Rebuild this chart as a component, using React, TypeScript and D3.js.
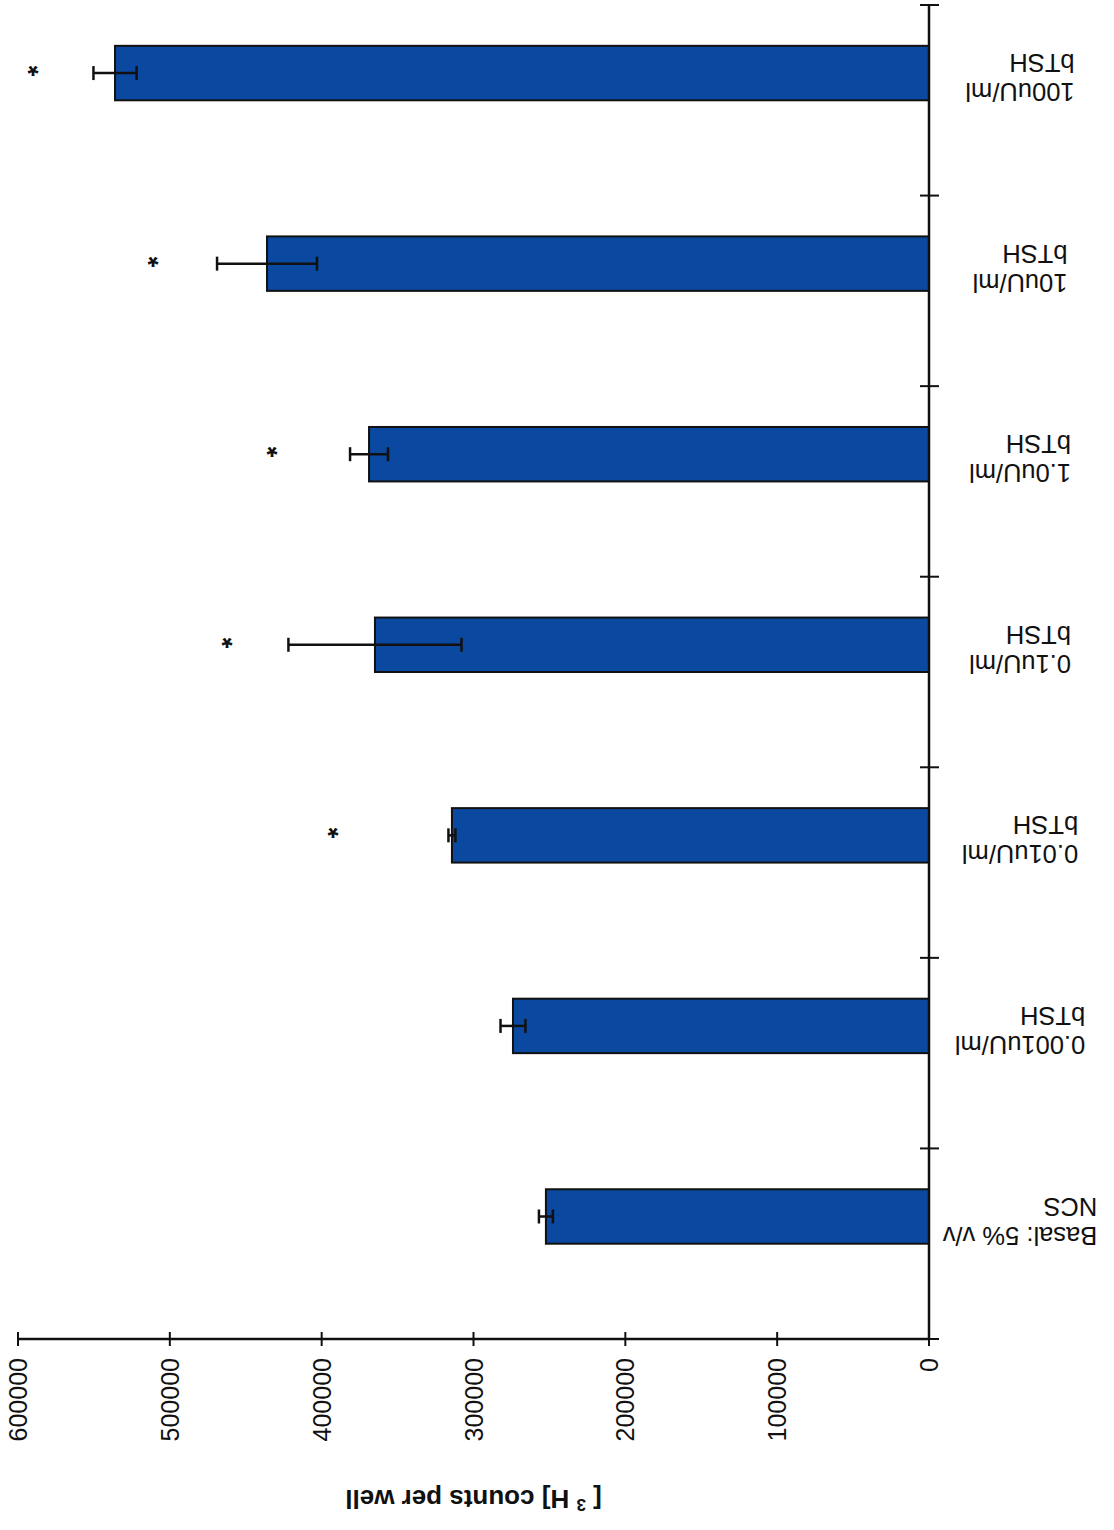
import React, { useEffect, useRef } from "react";
import * as d3 from "d3";

// Proliferation assay: [3H] counts per well for each bTSH dose
const categoryLines: string[][] = [
  ["Basal: 5% v/v", "NCS"],
  ["0.001uU/ml", "bTSH"],
  ["0.01uU/ml", "bTSH"],
  ["0.1uU/ml", "bTSH"],
  ["1.0uU/ml", "bTSH"],
  ["10uU/ml", "bTSH"],
  ["100uU/ml", "bTSH"],
];
const meanCounts = [252300, 274000, 314200, 364900, 368800, 436000, 536100];
const errorCounts = [4600, 8200, 2300, 57000, 12500, 32900, 14200];
// Value at which the significance marker sits (null = not significant)
const significanceAt: (number | null)[] = [null, null, 392500, 462400, 432700, 511000, 590100];
const valueTicks = [0, 100000, 200000, 300000, 400000, 500000, 600000];

const W = 1114;
const H = 1530;
const FONT = "'Liberation Sans', Arial, sans-serif";

export default function App() {
  const ref = useRef<SVGSVGElement | null>(null);

  useEffect(() => {
    const svg = d3.select(ref.current);
    svg.selectAll("*").remove();

    // The figure is laid out as a bar chart and then turned upside-down as a whole
    const g = svg.append("g").attr("transform", `rotate(180 ${W / 2} ${H / 2})`);

    const keys = categoryLines.map((_, i) => String(i));
    const x = d3.scaleLinear().domain([0, 600000]).range([185, 1096]);
    const y = d3.scaleBand<string>().domain(keys).range([191, 1525]).paddingInner(0).paddingOuter(0);
    const bw = y.bandwidth();
    const barH = bw / 3.5;
    const barTop = (k: string) => (y(k) as number) + bw * 0.5;
    const barMid = (k: string) => barTop(k) + barH / 2;

    // bars
    g.append("g")
      .selectAll("rect")
      .data(meanCounts)
      .join("rect")
      .attr("x", x(0))
      .attr("y", (_, i) => barTop(keys[i]))
      .attr("width", (d) => x(d) - x(0))
      .attr("height", barH)
      .attr("fill", "#0b49a0")
      .attr("stroke", "#111")
      .attr("stroke-width", 2);

    // error bars
    const eb = g.append("g").attr("stroke", "#111").attr("stroke-width", 2.5).attr("fill", "none");
    meanCounts.forEach((m, i) => {
      const cy = barMid(keys[i]);
      const lo = x(m - errorCounts[i]);
      const hi = x(m + errorCounts[i]);
      eb.append("line").attr("x1", lo).attr("x2", hi).attr("y1", cy).attr("y2", cy);
      eb.append("line").attr("x1", lo).attr("x2", lo).attr("y1", cy - 7).attr("y2", cy + 7);
      eb.append("line").attr("x1", hi).attr("x2", hi).attr("y1", cy - 7).attr("y2", cy + 7);
    });

    // significance markers
    g.append("g")
      .selectAll("text")
      .data(significanceAt.map((v, i) => ({ v, i })).filter((d) => d.v !== null))
      .join("text")
      .attr("x", (d) => x(d.v as number))
      .attr("y", (d) => barMid(keys[d.i]) + 16)
      .attr("text-anchor", "middle")
      .attr("font-family", FONT)
      .attr("font-size", 28)
      .attr("font-weight", "bold")
      .attr("fill", "#111")
      .text("*");

    // value axis
    const ax = g.append("g");
    ax.append("line")
      .attr("x1", x(0))
      .attr("x2", x(600000))
      .attr("y1", 191)
      .attr("y2", 191)
      .attr("stroke", "#111")
      .attr("stroke-width", 2.5);
    ax.selectAll("line.tick")
      .data(valueTicks)
      .join("line")
      .attr("class", "tick")
      .attr("x1", (d) => x(d))
      .attr("x2", (d) => x(d))
      .attr("y1", 184)
      .attr("y2", 198)
      .attr("stroke", "#111")
      .attr("stroke-width", 2);
    ax.selectAll("text")
      .data(valueTicks)
      .join("text")
      .attr("transform", (d) => `translate(${x(d)},172) rotate(90)`)
      .attr("text-anchor", "end")
      .attr("dominant-baseline", "central")
      .attr("font-family", FONT)
      .attr("font-size", 25)
      .attr("fill", "#111")
      .text((d) => String(d));

    // axis title with superscript
    const title = g.append("text")
      .attr("x", (x(0) + x(600000)) / 2)
      .attr("y", 40)
      .attr("text-anchor", "middle")
      .attr("font-family", FONT)
      .attr("font-size", 26)
      .attr("font-weight", "bold")
      .attr("fill", "#111");
    title.append("tspan").text("[ ");
    title.append("tspan").attr("font-size", 17).attr("dy", -9).text("3");
    title.append("tspan").attr("dy", 9).text(" H] counts per well");

    // category axis
    const cx = x(0);
    const cat = g.append("g");
    cat.append("line")
      .attr("x1", cx)
      .attr("x2", cx)
      .attr("y1", 191)
      .attr("y2", 1525)
      .attr("stroke", "#111")
      .attr("stroke-width", 2.5);
    const bounds = keys.map((k) => y(k) as number).concat([1525]);
    cat.selectAll("line.tick")
      .data(bounds)
      .join("line")
      .attr("class", "tick")
      .attr("x1", cx - 10)
      .attr("x2", cx + 9)
      .attr("y1", (d) => d)
      .attr("y2", (d) => d)
      .attr("stroke", "#111")
      .attr("stroke-width", 2);

    // category labels: lines left-aligned, block centred in the label column
    categoryLines.forEach((lines, i) => {
      const mid = barMid(keys[i]);
      const t = cat.append("text")
        .attr("font-family", FONT)
        .attr("font-size", 25.5)
        .attr("fill", "#111");
      lines.forEach((ln, j) => {
        t.append("tspan").attr("y", mid - 10 + j * 29).text(ln);
      });
      let wmax = 0;
      t.selectAll<SVGTSpanElement, unknown>("tspan").each(function () {
        wmax = Math.max(wmax, this.getComputedTextLength());
      });
      t.selectAll("tspan").attr("x", 94 - wmax / 2);
    });
  }, []);

  return (
    <svg
      ref={ref}
      width={W}
      height={H}
      style={{ position: "absolute", left: 0, top: 0, background: "#fff" }}
    />
  );
}
